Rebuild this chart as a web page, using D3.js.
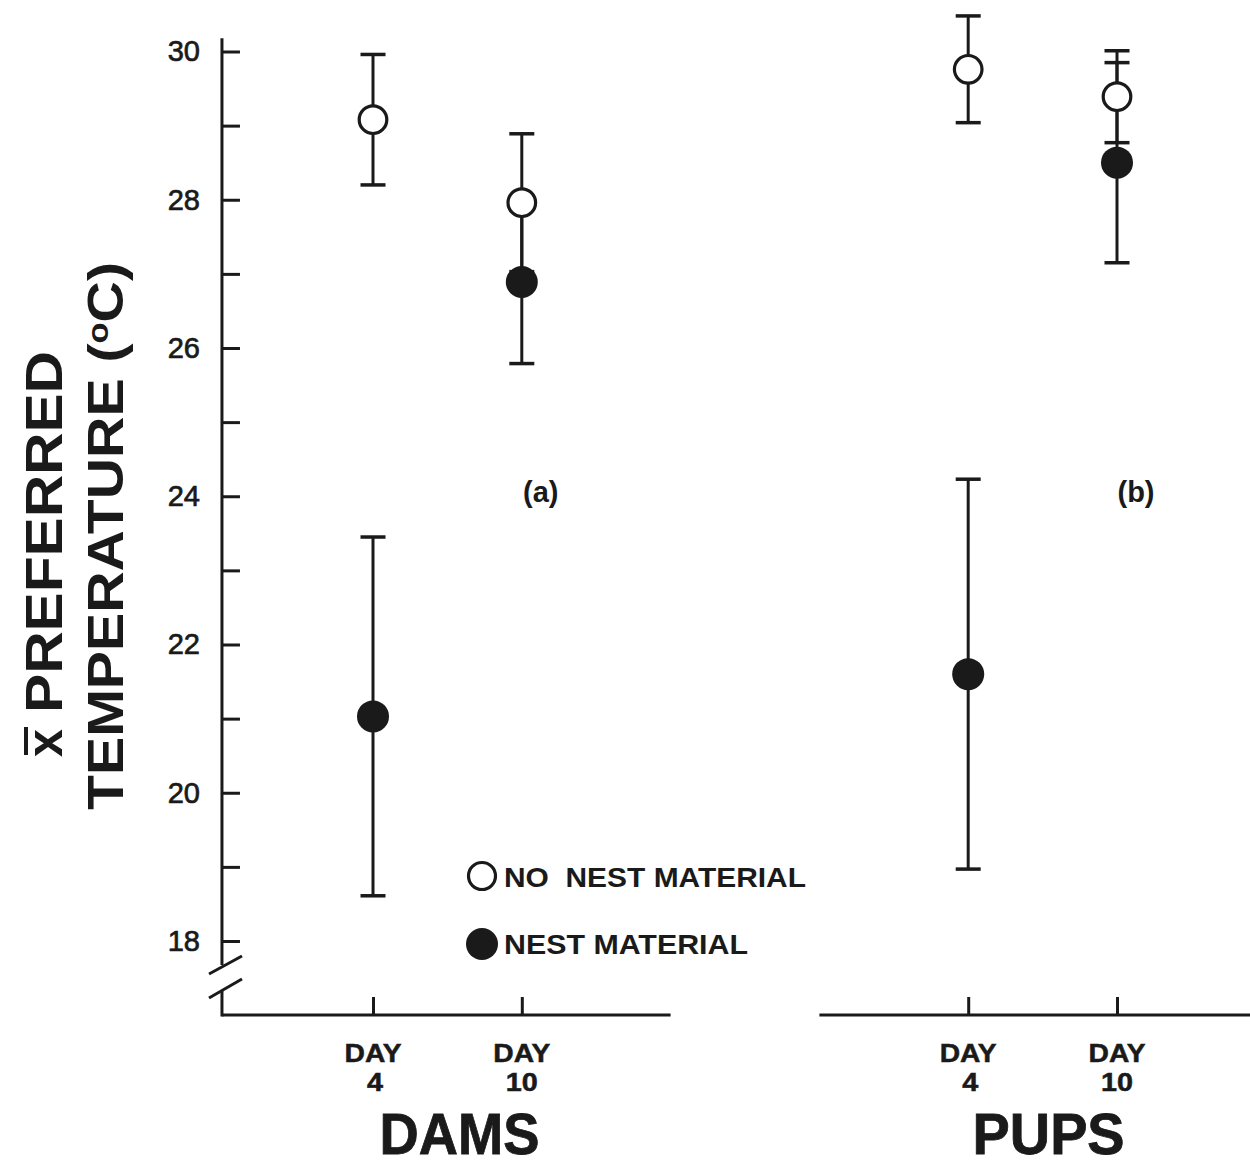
<!DOCTYPE html>
<html>
<head>
<meta charset="utf-8">
<script src="https://cdn.jsdelivr.net/npm/d3@7"></script>
<style>
  html, body { margin: 0; padding: 0; background: #fff; }
  svg { display: block; }
  text { font-family: "Liberation Sans", Arial, Helvetica, sans-serif; fill: #1a1a1a; }
</style>
</head>
<body>
<svg id="chart" width="1250" height="1166"></svg>
<script>
// Groups and days shown along the horizontal axis
const groups = ["DAMS", "PUPS"];
const days = ["4", "10"];
// Slot index of each group/day column (a two-slot gap separates the panels)
const slots = [0, 1, 4, 5];
const panelLabels = ["(a)", "(b)"];

// Mean preferred temperature (°C) and error half-widths, ordered DAMS d4, DAMS d10, PUPS d4, PUPS d10
const noNestMean = [29.08, 27.96, 29.76, 29.39];
const noNestErr  = [0.88, 0.93, 0.72, 0.62];
const nestMean   = [21.03, 26.89, 21.60, 28.50];
const nestErr    = [2.42, 1.10, 2.63, 1.35];

const yTicks = d3.range(18, 31, 1);
const legendItems = ["NO  NEST MATERIAL", "NEST MATERIAL"];

const svg = d3.select("#chart");
const ink = "#1a1a1a";

const y = d3.scaleLinear().domain([18, 30]).range([941, 51.5]);
const x = d3.scaleLinear().domain([0, 5]).range([373, 1117]);
const xAxisX = x(-1.015);     // position of the vertical axis
const baseY = 1015;           // horizontal axis line

// ---- vertical axis with ticks pointing inward ----
const yAxis = d3.axisLeft(y)
  .tickValues(yTicks)
  .tickSize(-18)
  .tickPadding(22)
  .tickFormat(d => d % 2 === 0 ? d : "");
const gy = svg.append("g").attr("transform", `translate(${xAxisX},0)`).call(yAxis);
gy.select(".domain").remove();
gy.selectAll(".tick line").attr("stroke", ink).attr("stroke-width", 3);
gy.selectAll(".tick text")
  .attr("font-size", 29)
  .attr("font-family", "Liberation Sans, Arial, sans-serif")
  .attr("fill", ink)
  .attr("stroke", ink).attr("stroke-width", 0.7);

// axis line, broken near the bottom
const axisTop = y(30.18);
svg.append("line").attr("x1", xAxisX).attr("x2", xAxisX)
  .attr("y1", axisTop).attr("y2", 965).attr("stroke", ink).attr("stroke-width", 3);
svg.append("line").attr("x1", xAxisX).attr("x2", xAxisX)
  .attr("y1", 990).attr("y2", baseY + 1.5).attr("stroke", ink).attr("stroke-width", 3);
// break marks
[[974, 956], [998, 979]].forEach(([a, b]) => {
  svg.append("line").attr("x1", 209).attr("y1", a).attr("x2", 242).attr("y2", b)
    .attr("stroke", ink).attr("stroke-width", 3);
});

// ---- horizontal axis segments ----
const segments = [[-1.015, 2.0, [0, 1]], [3.0, 5.95, [4, 5]]];
segments.forEach(([a, b, ticks]) => {
  const xs = d3.scaleLinear().domain([a, b]).range([x(a), x(b)]);
  const g = svg.append("g").attr("transform", `translate(0,${baseY})`)
    .call(d3.axisBottom(x).tickValues(ticks).tickSize(-18).tickFormat(""));
  g.select(".domain").remove();
  g.selectAll(".tick line").attr("stroke", ink).attr("stroke-width", 3);
  svg.append("line").attr("x1", xs(a)).attr("x2", xs(b))
    .attr("y1", baseY).attr("y2", baseY).attr("stroke", ink).attr("stroke-width", 3);
});

// day labels under each column
groups.forEach((gname, gi) => {
  days.forEach((day, di) => {
    const cx = x(slots[gi * 2 + di]);
    svg.append("text").attr("x", cx).attr("y", 1062)
      .attr("text-anchor", "middle").attr("font-size", 25).attr("font-weight", "bold")
      .attr("textLength", 57).attr("lengthAdjust", "spacingAndGlyphs")
      .attr("stroke", ink).attr("stroke-width", 0.5)
      .text("DAY");
    svg.append("text").attr("x", cx + (day === "4" ? 2 : 0)).attr("y", 1091)
      .attr("text-anchor", "middle").attr("font-size", 25).attr("font-weight", "bold")
      .attr("stroke", ink).attr("stroke-width", 0.5)
      .attr("textLength", day === "4" ? 16 : 32).attr("lengthAdjust", "spacingAndGlyphs")
      .text(day);
  });
  // group title
  const mid = (x(slots[gi * 2]) + x(slots[gi * 2 + 1])) / 2 + (gi === 0 ? 12 : 6);
  svg.append("text").attr("x", mid).attr("y", 1154)
    .attr("text-anchor", "middle").attr("font-size", 57).attr("font-weight", "bold")
    .attr("stroke", ink).attr("stroke-width", 0.8)
    .attr("textLength", gi === 0 ? 160 : 152).attr("lengthAdjust", "spacingAndGlyphs")
    .text(gname);
  // panel label
  svg.append("text").attr("x", x(slots[gi * 2 + 1]) + 19).attr("y", 502)
    .attr("text-anchor", "middle").attr("font-size", 29).attr("font-weight", "bold")
    .text(panelLabels[gi]);
});

// ---- error bars and means ----
function drawSeries(means, errs) {
  const g = svg.append("g");
  means.forEach((m, i) => {
    const cx = x(slots[i]);
    const lo = y(m - errs[i]), hi = y(m + errs[i]);
    g.append("line").attr("x1", cx).attr("x2", cx).attr("y1", hi).attr("y2", lo)
      .attr("stroke", ink).attr("stroke-width", 3);
    [hi, lo].forEach(v => g.append("line")
      .attr("x1", cx - 12.5).attr("x2", cx + 12.5).attr("y1", v).attr("y2", v)
      .attr("stroke", ink).attr("stroke-width", 3.5));
  });
  return g;
}
const gNest = drawSeries(nestMean, nestErr);
const gNo = drawSeries(noNestMean, noNestErr);

gNest.selectAll("circle.m").data(nestMean).join("circle").attr("class", "m")
  .attr("cx", (d, i) => x(slots[i])).attr("cy", d => y(d)).attr("r", 16)
  .attr("fill", ink);
gNo.selectAll("circle.m").data(noNestMean).join("circle").attr("class", "m")
  .attr("cx", (d, i) => x(slots[i])).attr("cy", d => y(d)).attr("r", 13.8)
  .attr("fill", "#fff").attr("stroke", ink).attr("stroke-width", 3.2);

// ---- legend ----
const legend = svg.append("g");
legendItems.forEach((label, i) => {
  const ly = 876 + i * 68;
  const c = legend.append("circle").attr("cx", 482).attr("cy", ly);
  if (i === 0) c.attr("r", 13.5).attr("fill", "#fff").attr("stroke", ink).attr("stroke-width", 3.2);
  else c.attr("r", 16).attr("fill", ink);
  legend.append("text").attr("x", 504).attr("y", ly + 11 - (i === 1 ? 1 : 0))
    .attr("font-size", 28).attr("font-weight", "bold")
    .style("white-space", "pre")
    .attr("textLength", i === 0 ? 302 : 244).attr("lengthAdjust", "spacingAndGlyphs")
    .text(label);
});

// ---- vertical axis title (two rotated lines) ----
const title = svg.append("g").attr("transform", "rotate(-90)");
title.append("text").attr("x", -713).attr("y", 62)
  .attr("font-size", 51).attr("font-weight", "bold")
  .attr("textLength", 362).attr("lengthAdjust", "spacingAndGlyphs")
  .text("PREFERRED");
title.append("text").attr("x", -757).attr("y", 62)
  .attr("font-size", 50).attr("font-weight", "bold")
  .text("x");
title.append("line").attr("x1", -755).attr("x2", -727).attr("y1", 26).attr("y2", 26)
  .attr("stroke", ink).attr("stroke-width", 4);
const t2 = title.append("text").attr("x", -810).attr("y", 123)
  .attr("font-size", 50).attr("font-weight", "bold")
  .attr("textLength", 548).attr("lengthAdjust", "spacingAndGlyphs");
t2.append("tspan").text("TEMPERATURE (");
t2.append("tspan").attr("font-size", 30).attr("dy", -15).text("o");
t2.append("tspan").attr("dy", 15).text("C)");
</script>
</body>
</html>
